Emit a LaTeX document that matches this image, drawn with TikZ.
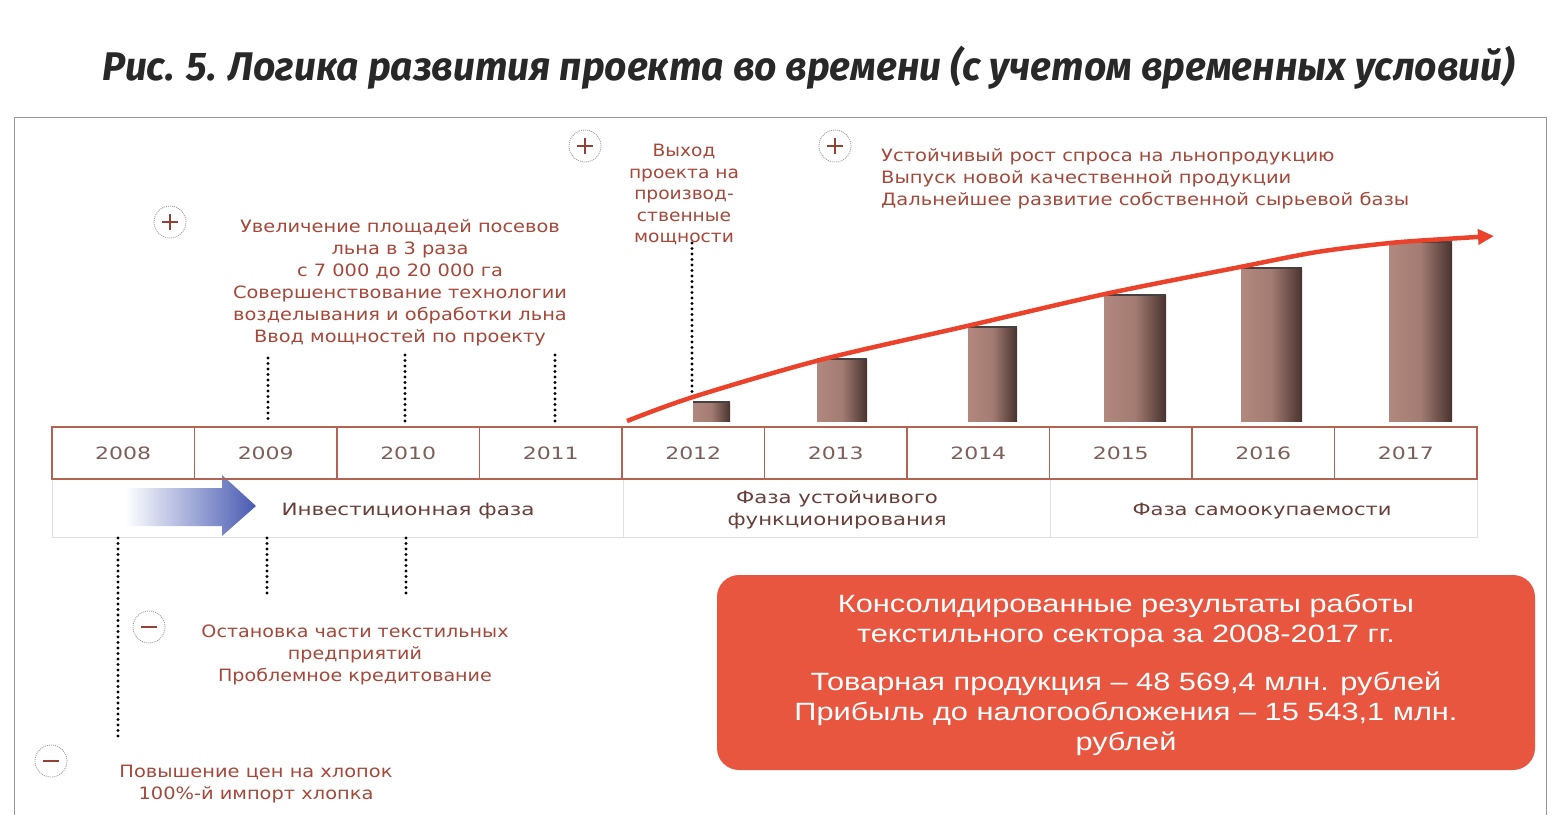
\documentclass[tikz,border=0pt]{standalone}
\usepackage{fontspec}
\usepackage{graphicx}
\setmainfont{DejaVu Sans}
\newfontfamily\ttlfont{Fira Sans}
\newfontfamily\resfont{Liberation Sans}
\usetikzlibrary{arrows.meta,calc}
\newcommand{\fitw}[2]{\resizebox{#1}{\height}{#2}}
\definecolor{labc}{RGB}{165,72,58}
\definecolor{yearc}{RGB}{125,95,90}
\definecolor{phasec}{RGB}{105,62,56}
\definecolor{boxc}{RGB}{180,98,82}
\definecolor{redc}{RGB}{235,66,44}
\definecolor{resc}{RGB}{232,86,64}
\definecolor{bluec}{RGB}{72,90,178}
\definecolor{cdark}{RGB}{72,50,46}
\definecolor{clight}{RGB}{178,136,126}
\definecolor{ctop}{RGB}{70,64,64}
\definecolor{framec}{RGB}{150,150,150}
\tikzset{
  lbl/.style={text=labc, inner sep=0pt, font=\fontsize{17}{22}\selectfont},
  yearcell/.style={draw=boxc, line width=1.2pt, minimum width=142.5pt, minimum height=52pt, inner sep=0pt, text=yearc, font=\fontsize{17}{20}\selectfont},
  phase/.style={text=phasec, inner sep=0pt, font=\fontsize{17}{22}\selectfont},
  dots/.style={draw=black, line width=3.4pt, dash pattern=on 0pt off 5.5pt, line cap=round},
  pmcirc/.style={circle, draw=framec, line width=0.8pt, dash pattern=on 1pt off 1pt, minimum size=32pt, inner sep=0pt},
  signline/.style={draw=labc!90!black, line width=2.6pt},
  redcurve/.style={draw=redc, line width=4.5pt, -{Triangle[length=16pt,width=15pt]}},
  redbox/.style={fill=resc, rounded corners=22pt, minimum width=818pt, minimum height=195pt, inner sep=0pt},
  restext/.style={text=white, inner sep=0pt, font=\resfont\fontsize{25}{30}\selectfont},
}
\newcommand{\cyl}[3]{%
  \shade[left color=clight, right color=cdark, middle color=clight!85!cdark] (#1,421) rectangle (#2,#3);
  \draw[ctop, line width=1.5pt] (#1,#3) -- (#2,#3);
}
\begin{document}
\begin{tikzpicture}[x=1pt,y=-1pt]
\useasboundingbox (0,0) rectangle (1561,815);
\fill[white] (0,0) rectangle (1561,815);
% title
\node[anchor=base, inner sep=0pt, text={rgb,255:red,40;green,40;blue,40}] (title) at (809,80)
  {\fitw{1412pt}{\ttlfont\bfseries\itshape\fontsize{40}{40}\selectfont Рис. 5. Логика развития проекта во времени (с учетом временных условий)}};
% frame
\draw[framec, line width=1pt] (14,815) -- (14,117) -- (1546,117) -- (1546,815);
% phase row
\draw[black!12, line width=1pt] (52,479) rectangle (1477,537);
\draw[black!12, line width=1pt] (623,479) -- (623,537) (1050,479) -- (1050,537);
% blue arrow
\shade[left color=white, right color=bluec] (125,488) -- (222,488) -- (222,475) -- (256,506) -- (222,536) -- (222,526) -- (125,526) -- cycle;
% year cells
\foreach \yr [count=\i from 0] in {2008,2009,2010,2011,2012,2013,2014,2015,2016,2017}
  \node[yearcell] (y\yr) at ({52+142.5*\i+71.25},453) {\fitw{56pt}{\yr}};
% phase texts
\node[phase, anchor=base] (ph1) at (408,515.5) {\fitw{253pt}{Инвестиционная фаза}};
\node[phase, anchor=base] (ph2) at (837,503.5) {\fitw{219pt}{\begin{tabular}[t]{@{}c@{}}Фаза устойчивого\\ функционирования\end{tabular}}};
\node[phase, anchor=base] (ph3) at (1262,515.5) {\fitw{259pt}{Фаза самоокупаемости}};
% bars
\cyl{693}{730}{402}
\cyl{817}{867}{359}
\cyl{968}{1017}{327}
\cyl{1104}{1166}{295}
\cyl{1241}{1302}{268}
\cyl{1389}{1452}{242}
% red growth curve
\coordinate (c0) at (627,421);
\coordinate (c1) at (1494,236);
\draw[redcurve] plot[smooth, tension=0.5] coordinates {(c0) (693,397) (820,360) (967,326) (1105,294) (1240,267) (1317,252) (1390,243) (1445,239) (c1)};
% texts
\node[lbl, anchor=base] (t1) at (400,232) {\fitw{334pt}{\begin{tabular}[t]{@{}c@{}}Увеличение площадей посевов\\ льна в 3 раза\\ с 7 000 до 20 000 га\\ Совершенствование технологии\\ возделывания и обработки льна\\ Ввод мощностей по проекту\end{tabular}}};
\node[lbl, anchor=base, font=\fontsize{17}{21.5}\selectfont] (t2) at (684,156.5) {\fitw{110pt}{\begin{tabular}[t]{@{}c@{}}Выход\\ проекта на\\ производ-\\ ственные\\ мощности\end{tabular}}};
\node[lbl, anchor=base west] (t3) at (881,161.5) {\fitw{528pt}{\begin{tabular}[t]{@{}l@{}}Устойчивый рост спроса на льнопродукцию\\ Выпуск новой качественной продукции\\ Дальнейшее развитие собственной сырьевой базы\end{tabular}}};
\node[lbl, anchor=base] (t4) at (355,637.5) {\fitw{307pt}{\begin{tabular}[t]{@{}c@{}}Остановка части текстильных\\ предприятий\\ Проблемное кредитование\end{tabular}}};
\node[lbl, anchor=base] (t5) at (256,777.5) {\fitw{273pt}{\begin{tabular}[t]{@{}c@{}}Повышение цен на хлопок\\ 100\%-й импорт хлопка\end{tabular}}};
% plus / minus circles
\foreach \n/\px/\py in {p1/170/222, p2/585/146, p3/835/146} {
  \node[pmcirc] (\n) at (\px,\py) {};
  \draw[signline] ($(\n.center)+(-8,0)$) -- ($(\n.center)+(8,0)$);
  \draw[signline] ($(\n.center)+(0,-8)$) -- ($(\n.center)+(0,8)$);
}
\foreach \n/\px/\py in {m1/149/627, m2/51/761} {
  \node[pmcirc] (\n) at (\px,\py) {};
  \draw[signline] ($(\n.center)+(-8,0)$) -- ($(\n.center)+(8,0)$);
}
% dotted leaders
\coordinate (da1) at (268,358); \coordinate (db1) at (268,420);
\coordinate (da2) at (405,355); \coordinate (db2) at (405,422);
\coordinate (da3) at (555,355); \coordinate (db3) at (555,422);
\coordinate (da4) at (692,243); \coordinate (db4) at (692,396);
\coordinate (da5) at (118,538); \coordinate (db5) at (118,737);
\coordinate (da6) at (267,538); \coordinate (db6) at (267,598);
\coordinate (da7) at (406,538); \coordinate (db7) at (406,598);
\foreach \k in {1,...,7} \draw[dots] (da\k) -- (db\k);
% result box
\node[redbox] (res) at (1126,672.5) {};
\node[restext, anchor=base] (restx) at (1126,612) {\fitw{663pt}{\begin{tabular}[t]{@{}c@{}}Консолидированные результаты работы\\ текстильного сектора за 2008-2017 гг.\\[18pt] Товарная продукция – 48 569,4 млн. рублей\\ Прибыль до налогообложения – 15 543,1 млн.\\ рублей\end{tabular}}};
\end{tikzpicture}
\end{document}
